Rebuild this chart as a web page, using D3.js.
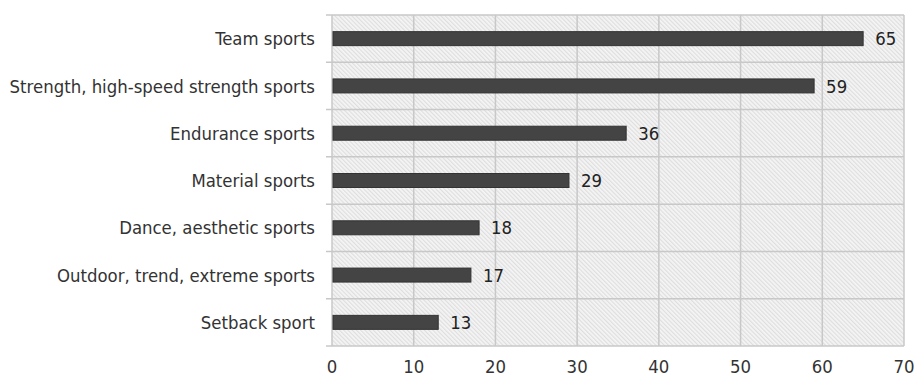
<!DOCTYPE html>
<html><head><meta charset="utf-8">
<script src="https://cdn.jsdelivr.net/npm/d3@7"></script>
<style>body{margin:0;background:#fff}</style>
</head><body>
<svg id="c" width="916" height="379"></svg>
<script>
const categories = ["Team sports","Strength, high-speed strength sports","Endurance sports","Material sports","Dance, aesthetic sports","Outdoor, trend, extreme sports","Setback sport"];
const values = [65,59,36,29,18,17,13];
const xTicks = [0,10,20,30,40,50,60,70];

const svg = d3.select("#c");
const m = {l:332, r:904, t:15, b:346};
const font = "'DejaVu Sans Condensed','DejaVu Sans',sans-serif";
const fs = 18.4;
const x = d3.scaleLinear().domain([0,70]).range([m.l,m.r]);
const y = d3.scaleBand().domain(categories).range([m.t,m.b]).paddingInner(0).paddingOuter(0);

const defs = svg.append("defs");
const pat = defs.append("pattern").attr("id","hatch").attr("patternUnits","userSpaceOnUse")
  .attr("width",3).attr("height",3).attr("patternTransform","rotate(-45)");
pat.append("rect").attr("width",3).attr("height",3).attr("fill","#f5f5f5");
pat.append("rect").attr("x",0).attr("width",1.2).attr("height",3).attr("fill","#dedede");

svg.append("rect").attr("x",m.l).attr("y",m.t).attr("width",m.r-m.l).attr("height",m.b-m.t).attr("fill","url(#hatch)");

const grid = "#c8c8c8";
svg.append("g").selectAll("line").data(xTicks).join("line")
  .attr("x1",d=>x(d)).attr("x2",d=>x(d)).attr("y1",m.t).attr("y2",m.b)
  .attr("stroke",grid).attr("stroke-width",1.5);
const bounds = categories.map(c=>y(c)).concat([m.b]);
svg.append("g").selectAll("line").data(bounds).join("line")
  .attr("x1",m.l-6).attr("x2",m.r).attr("y1",d=>d).attr("y2",d=>d)
  .attr("stroke",grid).attr("stroke-width",1.5);

const bh = 14;
svg.append("g").selectAll("rect").data(values).join("rect")
  .attr("x",x(0)+1).attr("y",(d,i)=>y(categories[i])+y.bandwidth()/2-bh/2)
  .attr("width",d=>x(d)-x(0)-1).attr("height",bh)
  .attr("fill","#444").attr("stroke","#333").attr("stroke-width",1);

svg.append("g").selectAll("text").data(values).join("text")
  .attr("x",d=>x(d)+12).attr("y",(d,i)=>y(categories[i])+y.bandwidth()/2)
  .attr("dy","0.36em").attr("font-family",font).attr("font-size",fs).attr("fill","#222")
  .text(d=>d);

svg.append("g").selectAll("text").data(categories).join("text")
  .attr("x",m.l-17).attr("y",d=>y(d)+y.bandwidth()/2).attr("dy","0.36em")
  .attr("text-anchor","end").attr("font-family",font).attr("font-size",fs).attr("fill","#333")
  .text(d=>d);

svg.append("g").selectAll("text").data(xTicks).join("text")
  .attr("x",d=>x(d)).attr("y",366).attr("dy","0.36em").attr("text-anchor","middle")
  .attr("font-family",font).attr("font-size",fs).attr("fill","#333")
  .text(d=>d);
</script>
</body></html>
